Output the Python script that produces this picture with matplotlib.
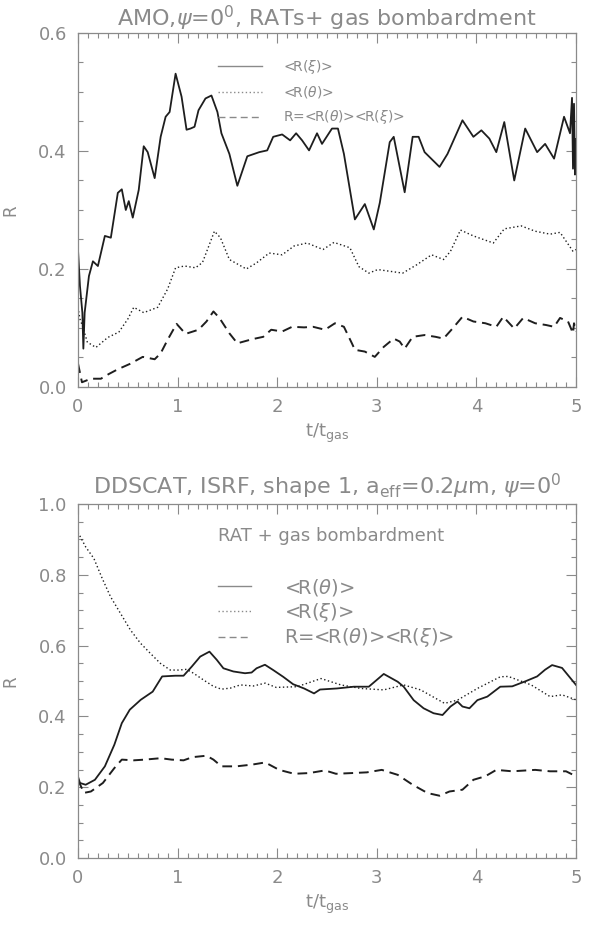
import numpy as np
import matplotlib
matplotlib.use('Agg')
import matplotlib.pyplot as plt

# ---- top panel: AMO, RATs + gas bombardment ----
t_xi_top = [0.0, 0.02, 0.044, 0.054, 0.067, 0.11, 0.15, 0.2, 0.27, 0.33, 0.40, 0.44, 0.48, 0.51, 0.55,
            0.61, 0.66, 0.70, 0.77, 0.83, 0.88, 0.92, 0.98, 1.04, 1.09, 1.13, 1.17, 1.21, 1.28, 1.34,
            1.40, 1.44, 1.52, 1.60, 1.70, 1.82, 1.90, 1.96, 2.05, 2.13, 2.19, 2.25, 2.32, 2.40, 2.45,
            2.55, 2.61, 2.67, 2.78, 2.88, 2.97, 3.03, 3.13, 3.17, 3.28, 3.36, 3.42, 3.48, 3.63, 3.71,
            3.86, 3.97, 4.05, 4.13, 4.20, 4.28, 4.38, 4.49, 4.61, 4.69, 4.78, 4.88, 4.94, 4.96, 4.97,
            4.98, 4.99, 5.0]
R_xi_top = [0.233, 0.171, 0.126, 0.065, 0.126, 0.188, 0.213, 0.205, 0.256, 0.253, 0.329, 0.335, 0.30, 0.315, 0.287,
            0.334, 0.408, 0.398, 0.354, 0.424, 0.458, 0.466, 0.531, 0.492, 0.436, 0.438, 0.441, 0.469, 0.489, 0.494,
            0.466, 0.43, 0.395, 0.341, 0.391, 0.398, 0.401, 0.424, 0.428, 0.418, 0.43, 0.418, 0.401, 0.43, 0.412,
            0.438, 0.438, 0.395, 0.284, 0.31, 0.267, 0.312, 0.415, 0.424, 0.33, 0.424, 0.424, 0.398, 0.373, 0.395,
            0.452, 0.424, 0.435, 0.421, 0.398, 0.449, 0.35, 0.438, 0.398, 0.412, 0.387, 0.458, 0.43, 0.49,
            0.37, 0.48, 0.36, 0.42]

t_th_top = [0.0, 0.02, 0.044, 0.094, 0.18, 0.30, 0.41, 0.50, 0.56, 0.66, 0.80, 0.90, 0.98, 1.07, 1.18,
            1.25, 1.30, 1.37, 1.43, 1.52, 1.69, 1.79, 1.92, 2.05, 2.17, 2.30, 2.46, 2.57, 2.73, 2.82,
            2.92, 3.01, 3.26, 3.40, 3.55, 3.67, 3.74, 3.84, 3.97, 4.17, 4.28, 4.45, 4.59, 4.74, 4.84,
            4.97, 5.0]
R_th_top = [0.135, 0.115, 0.104, 0.076, 0.067, 0.084, 0.093, 0.115, 0.135, 0.126, 0.135, 0.166, 0.202, 0.205, 0.202,
            0.211, 0.233, 0.264, 0.253, 0.216, 0.20, 0.21, 0.227, 0.224, 0.239, 0.244, 0.233, 0.245, 0.236, 0.204,
            0.193, 0.199, 0.193, 0.207, 0.224, 0.216, 0.23, 0.266, 0.256, 0.244, 0.268, 0.273, 0.264, 0.259, 0.262,
            0.23, 0.233]

t_R_top = [0.0, 0.04, 0.13, 0.23, 0.31, 0.40, 0.52, 0.65, 0.77, 0.83, 0.90, 0.99, 1.08, 1.21, 1.29,
           1.36, 1.42, 1.52, 1.60, 1.75, 1.86, 1.94, 2.05, 2.15, 2.27, 2.36, 2.48, 2.58, 2.67, 2.75,
           2.78, 2.88, 2.98, 3.07, 3.17, 3.23, 3.28, 3.36, 3.48, 3.59, 3.67, 3.76, 3.86, 3.97, 4.09,
           4.20, 4.27, 4.38, 4.47, 4.59, 4.70, 4.78, 4.84, 4.92, 4.97, 4.98, 5.0]
R_R_top = [0.04, 0.008, 0.014, 0.014, 0.022, 0.030, 0.039, 0.051, 0.047, 0.057, 0.080, 0.107, 0.090, 0.097, 0.111,
           0.128, 0.117, 0.091, 0.074, 0.081, 0.085, 0.097, 0.094, 0.102, 0.101, 0.102, 0.097, 0.108, 0.102, 0.074,
           0.063, 0.060, 0.051, 0.068, 0.082, 0.077, 0.065, 0.085, 0.088, 0.085, 0.082, 0.099, 0.119, 0.111, 0.108,
           0.102, 0.119, 0.099, 0.117, 0.108, 0.105, 0.102, 0.117, 0.111, 0.091, 0.108, 0.094]

# ---- bottom panel: DDSCAT, ISRF ----
t_th_bot = [0.0, 0.02, 0.077, 0.17, 0.27, 0.365, 0.44, 0.52, 0.63, 0.75, 0.845, 0.977, 1.06, 1.143, 1.227,
            1.32, 1.393, 1.46, 1.56, 1.677, 1.743, 1.793, 1.877, 1.96, 2.06, 2.16, 2.27, 2.37, 2.43, 2.60,
            2.77, 2.92, 3.07, 3.21, 3.27, 3.37, 3.47, 3.57, 3.66, 3.74, 3.81, 3.86, 3.93, 4.01, 4.11,
            4.24, 4.36, 4.49, 4.61, 4.69, 4.76, 4.86, 4.93, 5.0]
R_th_bot = [0.23, 0.212, 0.207, 0.221, 0.259, 0.32, 0.381, 0.419, 0.447, 0.47, 0.513, 0.515, 0.515, 0.541, 0.569,
            0.583, 0.56, 0.536, 0.527, 0.522, 0.524, 0.536, 0.546, 0.531, 0.512, 0.491, 0.479, 0.465, 0.476, 0.479,
            0.484, 0.484, 0.52, 0.498, 0.484, 0.446, 0.423, 0.409, 0.404, 0.428, 0.442, 0.428, 0.423, 0.446, 0.456,
            0.484, 0.485, 0.499, 0.513, 0.532, 0.545, 0.537, 0.513, 0.489]

t_xi_bot = [0.0, 0.077, 0.16, 0.243, 0.327, 0.427, 0.527, 0.627, 0.727, 0.827, 0.927, 1.01, 1.09, 1.16, 1.26,
            1.36, 1.44, 1.53, 1.63, 1.76, 1.88, 1.99, 2.20, 2.44, 2.64, 2.84, 3.07, 3.27, 3.44, 3.68,
            3.81, 4.01, 4.24, 4.32, 4.55, 4.74, 4.86, 5.0]
R_xi_bot = [0.92, 0.879, 0.846, 0.79, 0.738, 0.691, 0.644, 0.607, 0.578, 0.55, 0.531, 0.531, 0.533, 0.522, 0.503,
            0.485, 0.477, 0.48, 0.489, 0.486, 0.494, 0.482, 0.484, 0.507, 0.489, 0.479, 0.475, 0.489, 0.475, 0.437,
            0.446, 0.479, 0.512, 0.513, 0.489, 0.456, 0.461, 0.447]

t_R_bot = [0.0, 0.06, 0.13, 0.25, 0.365, 0.44, 0.56, 0.67, 0.83, 0.94, 1.06, 1.15, 1.29, 1.36, 1.44,
           1.59, 1.75, 1.88, 2.02, 2.17, 2.32, 2.48, 2.59, 2.75, 2.90, 3.05, 3.21, 3.36, 3.51, 3.63,
           3.73, 3.86, 3.97, 4.09, 4.20, 4.36, 4.59, 4.74, 4.90, 5.0]
R_R_bot = [0.221, 0.184, 0.188, 0.212, 0.254, 0.278, 0.276, 0.278, 0.282, 0.278, 0.276, 0.285, 0.289, 0.278, 0.259,
           0.259, 0.264, 0.27, 0.249, 0.238, 0.24, 0.2475, 0.238, 0.24, 0.242, 0.249, 0.235, 0.207, 0.1835, 0.176,
           0.188, 0.193, 0.221, 0.231, 0.249, 0.245, 0.249, 0.245, 0.245, 0.231]

gray = '#8a8a8a'
ink = '#1e1e1e'
plt.rcParams['mathtext.fontset'] = 'dejavusans'

fig = plt.figure(figsize=(5.98, 9.26), dpi=100)
ax1 = fig.add_axes([0.1304, 0.5821, 0.8328, 0.3823])
ax2 = fig.add_axes([0.1304, 0.0734, 0.8328, 0.3823])

dotted = (0, (1, 1.8))
dashed = (0, (5, 3))

ax1.plot(t_xi_top, R_xi_top, color=ink, lw=1.3, label=r'<R($\xi$)>')
ax1.plot(t_th_top, R_th_top, color=ink, lw=1.0, ls=dotted, label=r'<R($\theta$)>')
ax1.plot(t_R_top, R_R_top, color=ink, lw=1.4, ls=dashed, label=r'R=<R($\theta$)><R($\xi$)>')
ax1.set_ylim(0, 0.6)
ax1.set_yticks([0.0, 0.2, 0.4, 0.6])
ax1.set_title(r'AMO,$\psi$=0$^0$, RATs+ gas bombardment', fontsize=16, color=gray, pad=5)
leg1 = ax1.legend(loc='upper left', bbox_to_anchor=(0.281, 0.93), frameon=False, fontsize=10,
                  handlelength=3.2, handletextpad=1.5, labelspacing=0.6, borderpad=0, borderaxespad=0,
                  labelcolor=gray)

ax2.plot(t_th_bot, R_th_bot, color=ink, lw=1.3, label=r'<R($\theta$)>')
ax2.plot(t_xi_bot, R_xi_bot, color=ink, lw=1.0, ls=dotted, label=r'<R($\xi$)>')
ax2.plot(t_R_bot, R_R_bot, color=ink, lw=1.4, ls=dashed, label=r'R=<R($\theta$)><R($\xi$)>')
ax2.set_ylim(0, 1.0)
ax2.set_yticks([0.0, 0.2, 0.4, 0.6, 0.8, 1.0])
ax2.set_title(r'DDSCAT, ISRF, shape 1, a$_{\rm eff}$=0.2$\mu$m, $\psi$=0$^0$', fontsize=16, color=gray, pad=7)
ax2.text(0.281, 0.91, 'RAT + gas bombardment', transform=ax2.transAxes, fontsize=13, color=gray, va='center')
leg2 = ax2.legend(loc='upper left', bbox_to_anchor=(0.281, 0.795), frameon=False, fontsize=14,
                  handlelength=1.7, handletextpad=1.7, labelspacing=0.15, borderpad=0, borderaxespad=0,
                  labelcolor=gray)

for leg in (leg1, leg2):
    for h in leg.legend_handles:
        h.set_color(gray)
        h.set_linewidth(1.0)

for ax in (ax1, ax2):
    ax.set_xlim(0, 5)
    ax.set_xticks(np.arange(0, 6))
    ax.set_xticks(np.arange(0, 5.01, 0.1), minor=True)
    y0, y1 = ax.get_ylim()
    ax.set_yticks(np.arange(y0, y1 + 0.001, 0.05), minor=True)
    ax.yaxis.set_major_formatter(matplotlib.ticker.FormatStrFormatter('%.1f'))
    ax.tick_params(which='both', direction='in', top=True, right=True, colors=gray, labelsize=13)
    ax.tick_params(which='major', length=7, width=0.8, pad=8)
    ax.tick_params(which='minor', length=3.5, width=0.8)
    for s in ax.spines.values():
        s.set_color(gray)
        s.set_linewidth(0.9)
    ax.set_xlabel(r'$\rm t/t_{gas}$', fontsize=13, color=gray, labelpad=4)
    ax.set_ylabel('R', fontsize=12, color=gray, labelpad=14)

fig.savefig('out.png', dpi=100)
